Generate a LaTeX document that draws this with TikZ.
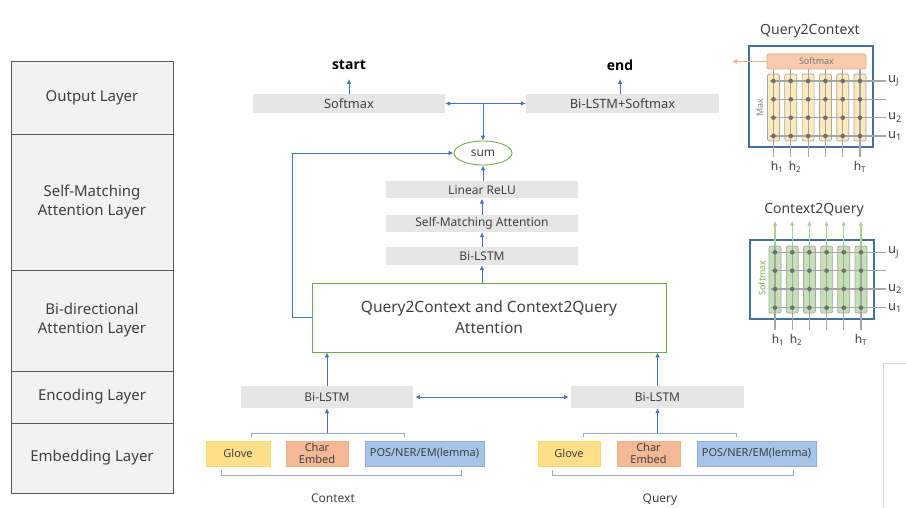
\documentclass[tikz,border=0pt]{standalone}
\usepackage{fontspec}
\setmainfont{Noto Sans}
\newfontfamily\boldfam{Open Sans}
\usetikzlibrary{arrows.meta,shapes.geometric}
\definecolor{txt}{HTML}{404040}
\definecolor{boxgray}{HTML}{E7E6E6}
\definecolor{arrblue}{HTML}{4472C4}
\definecolor{grn}{HTML}{70AD47}
\definecolor{lgrn}{HTML}{A9D18E}
\definecolor{layfill}{HTML}{F2F2F2}
\definecolor{layline}{HTML}{595959}
\definecolor{glovef}{HTML}{FFE08A}
\definecolor{glovel}{HTML}{FFD966}
\definecolor{charf}{HTML}{F4B896}
\definecolor{charl}{HTML}{F4B183}
\definecolor{posf}{HTML}{A6C3E8}
\definecolor{posl}{HTML}{8FAADC}
\definecolor{brk}{HTML}{8FAADC}
\definecolor{panel}{HTML}{41719C}
\definecolor{gline}{HTML}{A6A6A6}
\definecolor{ycol}{HTML}{FCE9BC}
\definecolor{gcol}{HTML}{C5E0B4}
\definecolor{smf}{HTML}{F8CBAD}
\definecolor{sml}{HTML}{E9A47F}
\definecolor{dotc}{HTML}{6F6F6F}
\tikzset{
  layerbox/.style={draw=layline,fill=layfill,line width=0.8pt,minimum width=162pt,inner sep=0pt,align=center,text=txt,font=\fontsize{15}{19}\selectfont},
  graybox/.style={fill=boxgray,inner sep=0pt,text=txt,font=\fontsize{12}{14}\selectfont},
  embbox/.style={inner sep=0pt,minimum height=25pt,text=txt,align=center,font=\fontsize{11}{12}\selectfont,line width=0.8pt},
  arr/.style={draw=arrblue,line width=0.8pt,-{Latex[length=5pt,width=4.5pt]}},
  arrb/.style={draw=arrblue,line width=0.8pt,{Latex[length=5pt,width=4.5pt]}-{Latex[length=5pt,width=4.5pt]}},
  bracketline/.style={draw=brk,line width=0.8pt},
  col/.style={draw=gline,line width=0.7pt,rounded corners=2pt,minimum width=12pt,inner sep=0pt},
  gl/.style={draw=gline,line width=1.1pt},
  lbl/.style={text=txt,font=\fontsize{12}{14}\selectfont,inner sep=0pt},
  ulbl/.style={text=txt,font=\fontsize{13}{15}\selectfont,inner sep=0pt},
  ttl/.style={text=txt,font=\fontsize{14}{16}\selectfont,inner sep=0pt},
  dotn/.style={circle,fill=dotc,inner sep=0pt,minimum size=4.6pt}
}
\begin{document}
\begin{tikzpicture}[x=1pt,y=-1pt]
\useasboundingbox (0,0) rectangle (906,508);
% ---------- layer table ----------
\node[layerbox,minimum height=73pt] (l1) at (92,97.5) {Output Layer};
\node[layerbox,minimum height=136pt] (l2) at (92,202) {Self-Matching\\Attention Layer};
\node[layerbox,minimum height=101pt] (l3) at (92,320.5) {Bi-directional\\Attention Layer};
\node[layerbox,minimum height=52pt] (l4) at (92,397) {Encoding Layer};
\node[layerbox,minimum height=70pt] (l5) at (92,458) {Embedding Layer};
% ---------- output ----------
\node[text=black,font=\boldfam\bfseries\fontsize{14}{16}\selectfont,inner sep=0pt] (start) at (349,65) {start};
\node[text=black,font=\boldfam\bfseries\fontsize{14}{16}\selectfont,inner sep=0pt] (endn) at (620,65) {end};
\node[graybox,minimum width=192pt,minimum height=19pt,font=\fontsize{12.8}{14}\selectfont] (sm) at (349,103.5) {Softmax};
\node[graybox,minimum width=193pt,minimum height=19pt,font=\fontsize{12.8}{14}\selectfont] (bsm) at (622.5,103.5) {Bi-LSTM+Softmax};
\coordinate (sa) at (349,79);
\coordinate (ea) at (620,79);
\draw[arr] (sm.north) -- (sa);
\draw[arr] (bsm.north -| ea) -- (ea);
\coordinate (j) at (483,103.5);
\node[ellipse,draw=grn,line width=0.9pt,minimum width=58pt,minimum height=24pt,inner sep=0pt,text=txt,font=\fontsize{12}{14}\selectfont] (sum) at (483,153) {sum};
\draw[arr] (j) -- (sm.east);
\draw[arr] (j) -- (bsm.west);
\draw[arr] (j) -- (sum.north);
% ---------- self matching ----------
\node[graybox,minimum width=192pt,minimum height=17pt] (lin) at (482,190) {Linear ReLU};
\node[graybox,minimum width=192pt,minimum height=17pt] (sma) at (482,223.5) {Self-Matching Attention};
\node[graybox,minimum width=192pt,minimum height=18pt] (bim) at (482,256) {Bi-LSTM};
\draw[arr] (lin.north -| sum.south) -- (sum.south);
\draw[arr] (sma.north) -- (lin.south);
\draw[arr] (bim.north) -- (sma.south);
% ---------- attention ----------
\node[draw=grn,line width=0.9pt,minimum width=354pt,minimum height=69pt,inner sep=0pt,align=center,text=txt,font=\fontsize{15.5}{21}\selectfont] (att) at (489,317.5) {Query2Context and Context2Query\\Attention};
\draw[arr] (att.north -| bim.south) -- (bim.south);
\draw[arr] (att.west) -- ++(-19,0) |- (sum.west);
% ---------- encoding ----------
\node[graybox,minimum width=172pt,minimum height=22pt] (bil) at (327,397) {Bi-LSTM};
\node[graybox,minimum width=173pt,minimum height=22pt] (bir) at (657.5,397) {Bi-LSTM};
\draw[arr] (bil.north) -- (bil.north |- att.south);
\draw[arr] (bir.north) -- (bir.north |- att.south);
\draw[arrb] ([xshift=2pt]bil.east) -- ([xshift=-2pt]bir.west);
% ---------- embedding ----------
\node[embbox,fill=glovef,draw=glovel,minimum width=64pt] (gc) at (238,453.5) {Glove};
\node[embbox,fill=charf,draw=charl,minimum width=62pt,font=\fontsize{11}{12.5}\selectfont] (cc) at (317,453.5) {Char\\Embed};
\node[embbox,fill=posf,draw=posl,minimum width=119pt] (pc) at (424.5,453.5) {POS/NER/EM(lemma)};
\node[embbox,fill=glovef,draw=glovel,minimum width=62pt] (gq) at (569,453.5) {Glove};
\node[embbox,fill=charf,draw=charl,minimum width=63pt,font=\fontsize{11}{12.5}\selectfont] (cq) at (648.5,453.5) {Char\\Embed};
\node[embbox,fill=posf,draw=posl,minimum width=119pt] (pq) at (756.5,453.5) {POS/NER/EM(lemma)};
% top brackets
\coordinate (tcl) at (251,433); \coordinate (tcr) at (404,433); \coordinate (tcm) at (327,433);
\coordinate (tql) at (583,433); \coordinate (tqr) at (736,433); \coordinate (tqm) at (657.5,433);
\draw[bracketline] ([yshift=-3.5pt]tcl) -- (tcl) -- (tcr) -- ([yshift=-3.5pt]tcr);
\draw[bracketline] ([yshift=-3.5pt]tql) -- (tql) -- (tqr) -- ([yshift=-3.5pt]tqr);
\draw[arr] (tcm) -- (bil.south);
\draw[arr] (tqm) -- (bir.south);
% bottom brackets
\coordinate (bcl) at (221,475); \coordinate (bcr) at (461,475);
\coordinate (bql) at (552,475); \coordinate (bqr) at (793,475);
\draw[bracketline] ([yshift=5pt]bcl) -- (bcl) -- (bcr) -- ([yshift=5pt]bcr);
\draw[bracketline] ([yshift=5pt]bql) -- (bql) -- (bqr) -- ([yshift=5pt]bqr);
\node[lbl,anchor=base] (ctx) at (333,502) {Context};
\node[lbl,anchor=base] (qry) at (660,502) {Query};
% ---------- Query2Context panel ----------
\node[ttl] (t1) at (810,31) {Query2Context};
\draw[draw=panel,line width=1.3pt] (749,46) rectangle (873,147);
\foreach \i in {0,...,5}{
  \node[col,fill=ycol,minimum height=67pt] (qc\i) at ({773.5+17.3*\i},107.5) {};
}
\node[draw=sml,fill=smf,line width=0.7pt,rounded corners=2pt,minimum width=99pt,minimum height=15pt,inner sep=0pt,text=gline!70!black,font=\fontsize{9}{10}\selectfont] (qsm) at (816.5,61.5) {Softmax};
\coordinate (qsa) at (732,61.5);
\draw[draw=charl,line width=1.3pt,-{Latex[length=5pt,width=5pt]}] (qsm.west) -- (qsa);
\foreach \i in {0,...,5}{
  \draw[gl] ({773.5+17.3*\i},69.5) -- ({773.5+17.3*\i},157);
}
\foreach \y in {81,99.3,117.7,136}{
  \draw[gl] (770,\y) -- (886,\y);
}
\foreach \i in {0,...,5}{
  \foreach \y in {81,99.3,117.7,136}{
    \node[dotn] at ({773.5+17.3*\i},\y) {};
  }
}
\node[rotate=90,text=gline!80!black,font=\fontsize{9}{10}\selectfont,inner sep=0pt] (qmax) at (760,108) {Max};
\node[ulbl,anchor=west] (qu1) at (888,81) {u\textsubscript{J}};
\node[ulbl,anchor=west] (qu2) at (888,117.7) {u\textsubscript{2}};
\node[ulbl,anchor=west] (qu3) at (888,136) {u\textsubscript{1}};
\node[lbl] (qh1) at (777,167) {h\textsubscript{1}};
\node[lbl] (qh2) at (795,167) {h\textsubscript{2}};
\node[lbl] (qh3) at (860,167) {h\textsubscript{T}};
% ---------- Context2Query panel ----------
\node[ttl] (t2) at (814,210) {Context2Query};
\draw[draw=panel,line width=1.3pt] (750,240) rectangle (874,319);
\foreach \i in {0,...,5}{
  \node[col,fill=gcol,minimum height=67pt] (cc\i) at ({775+17.2*\i},279.5) {};
  \draw[draw=lgrn,line width=1.3pt,-{Latex[length=5pt,width=4.5pt]}] (cc\i.north) -- ++(0,-25);
}
\foreach \i in {0,...,5}{
  \draw[gl] ({775+17.2*\i},246) -- ({775+17.2*\i},330);
}
\foreach \y in {252.3,270.7,289,307.7}{
  \draw[gl] (771,\y) -- (886,\y);
}
\foreach \i in {0,...,5}{
  \foreach \y in {252.3,270.7,289,307.7}{
    \node[dotn] at ({775+17.2*\i},\y) {};
  }
}
\node[rotate=90,text=grn,font=\fontsize{9}{10}\selectfont,inner sep=0pt] (csm) at (762,278) {Softmax};
\node[ulbl,anchor=west] (cu1) at (888,252.3) {u\textsubscript{J}};
\node[ulbl,anchor=west] (cu2) at (888,289) {u\textsubscript{2}};
\node[ulbl,anchor=west] (cu3) at (888,307.7) {u\textsubscript{1}};
\node[lbl] (ch1) at (778,340) {h\textsubscript{1}};
\node[lbl] (ch2) at (796,340) {h\textsubscript{2}};
\node[lbl] (ch3) at (861,340) {h\textsubscript{T}};
% faint frame corner
\draw[draw=black!15,line width=0.8pt] (906,363) -- (883,363) -- (883,508);
\end{tikzpicture}
\end{document}
